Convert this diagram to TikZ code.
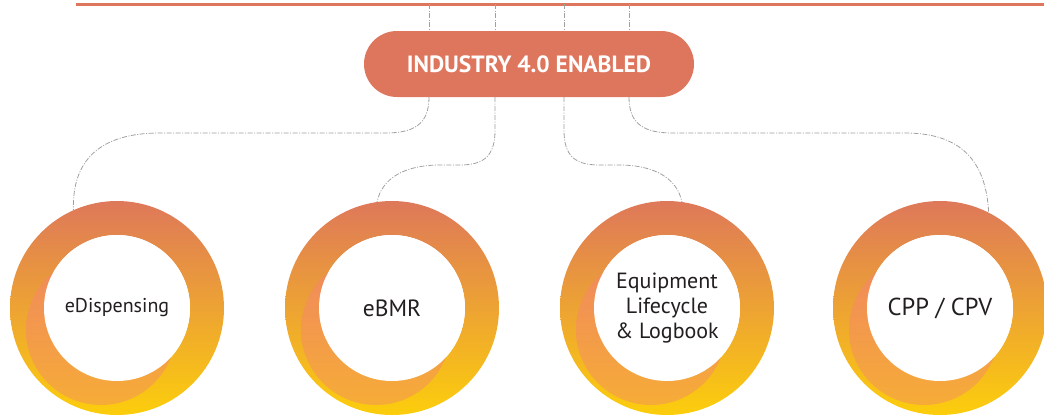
\documentclass[tikz,border=0pt]{standalone}
\usepackage{fontspec}
\setmainfont{PT Sans}
\usetikzlibrary{calc}
\definecolor{coral}{RGB}{222,118,94}
\definecolor{ringtop}{RGB}{222,120,90}
\definecolor{ringmid}{RGB}{234,160,68}
\definecolor{ringbot}{RGB}{252,206,12}
\definecolor{swtop}{RGB}{240,135,95}
\definecolor{swbot}{RGB}{246,172,55}
\definecolor{linkgray}{RGB}{160,160,160}
\definecolor{ink}{RGB}{35,31,32}
\newcommand\ringshape[1]{%
  \shade[top color=ringtop, middle color=ringmid, bottom color=ringbot, even odd rule]
    (#1) circle[radius=107] (#1) circle[radius=73];
  \begin{scope}
    \clip (#1) circle[radius=106.5];
    \shade[top color=swtop, bottom color=swbot] ($(#1)+(-16,22)$) circle[radius=75];
  \end{scope}
  \fill[white] (#1) circle[radius=73];
}
\begin{document}
\begin{tikzpicture}[x=1pt,y=-1pt,
  link/.style={draw=linkgray, line width=0.8pt, dash pattern=on 5pt off 1.5pt on 1pt off 1.5pt},
  ringlabel/.style={circle, minimum size=214pt, inner sep=0pt, text=ink, align=center},
  hubbox/.style={rectangle, rounded corners=33pt, fill=coral, minimum width=330pt, minimum height=66pt, text=white, font=\fontsize{23.5}{26}\selectfont\bfseries}]
\useasboundingbox (0,0) rectangle (1044,418);
% top rule
\coordinate (tl) at (76,4);
\coordinate (tr) at (1044,4);
\draw[coral, line width=3pt] (tl) -- (tr);
% rings
\ringshape{117,308}
\ringshape{392,308}
\ringshape{667,308}
\ringshape{940,308}
\node[ringlabel, font=\fontsize{20}{24}\selectfont] (r1) at (117,308) {eDispensing};
\node[ringlabel, font=\fontsize{23.5}{26}\selectfont] (r2) at (392,308) {eBMR};
\node[ringlabel, font=\fontsize{22}{25}\selectfont] (r3) at (667,308) {Equipment\\Lifecycle\\\& Logbook};
\node[ringlabel, font=\fontsize{24.5}{28}\selectfont] (r4) at (940,308) {CPP / CPV};
% hub
\node[hubbox] (hub) at (529,64) {INDUSTRY 4.0 ENABLED};
% connectors from top rule to hub
\foreach \x [count=\i] in {429,495,564,629} {
  \coordinate (t\i) at (\x,4);
  \draw[link] (t\i) -- (hub.north -| t\i);
}
% connectors from hub to rings
\draw[link] (hub.south -| t1) .. controls (429,125) and (413,133) .. (385,133)
  -- (160,133) .. controls (100,133) and (72,160) .. (r1.114);
\draw[link] (hub.south -| t2) -- (495,130) .. controls (495,155) and (485,165) .. (460,165)
  -- (440,165) .. controls (405,165) and (382,178) .. (r2.98);
\draw[link] (hub.south -| t3) -- (564,130) .. controls (564,155) and (574,165) .. (599,165)
  -- (619,165) .. controls (654,165) and (677,178) .. (r3.82);
\draw[link] (hub.south -| t4) .. controls (629,125) and (645,133) .. (673,133)
  -- (905,133) .. controls (960,133) and (986,160) .. (r4.63);
\end{tikzpicture}
\end{document}
